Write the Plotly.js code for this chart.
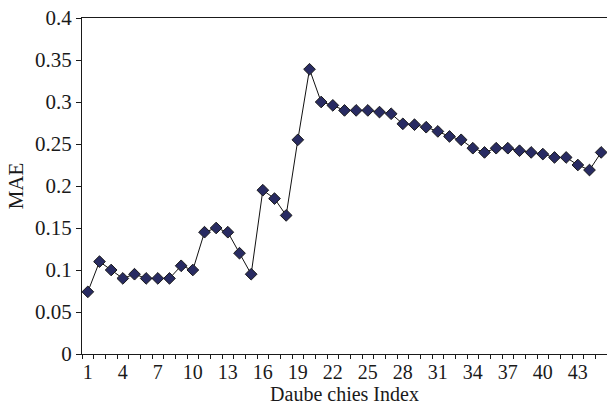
<!DOCTYPE html>
<html>
<head>
<meta charset="utf-8">
<script src="https://cdn.plot.ly/plotly-3.0.1.min.js"></script>
<style>html,body{margin:0;padding:0;background:#fff;}#chart{width:607px;height:412px;}</style>
</head>
<body>
<div id="chart"></div>
<script>
// Daubechies wavelet index (categories)
var daubIndex = [1,2,3,4,5,6,7,8,9,10,11,12,13,14,15,16,17,18,19,20,21,22,23,24,25,26,27,28,29,30,31,32,33,34,35,36,37,38,39,40,41,42,43,44,45];
// MAE values
var maeValues = [0.074,0.110,0.100,0.090,0.095,0.090,0.090,0.090,0.105,0.100,
                 0.145,0.150,0.145,0.120,0.095,0.195,0.185,0.165,0.255,0.339,
                 0.300,0.296,0.290,0.290,0.290,0.288,0.286,0.274,0.273,0.270,
                 0.265,0.259,0.255,0.245,0.240,0.245,0.245,0.242,0.240,0.238,
                 0.234,0.234,0.225,0.219,0.240];
// x tick labels (every third index)
var xTickVals = [1,4,7,10,13,16,19,22,25,28,31,34,37,40,43];
var xTickText = ["1","4","7","10","13","16","19","22","25","28","31","34","37","40","43"];

var serif = "Liberation Serif, Times New Roman, serif";
var ink = "#1a1a1a";

var trace = {
  x: daubIndex,
  y: maeValues,
  type: "scatter",
  mode: "lines+markers",
  line: {color: "#111111", width: 1},
  marker: {symbol: "diamond", size: 9, color: "#282b62", line: {color: "#1a1a1a", width: 1}},
  hoverinfo: "x+y"
};

var layout = {
  width: 607,
  height: 412,
  margin: {l: 82, r: 0, t: 18, b: 58, pad: 0},
  paper_bgcolor: "#ffffff",
  plot_bgcolor: "#ffffff",
  showlegend: false,
  font: {family: serif, size: 21, color: ink},
  xaxis: {
    range: [0.5, 45.5],
    tickmode: "array",
    tickvals: xTickVals,
    ticktext: xTickText,
    ticks: "",
    showgrid: false,
    zeroline: false,
    showline: true,
    linecolor: ink,
    linewidth: 1,
    mirror: true,
    minor: {tickmode: "linear", tick0: 0.5, dtick: 1, ticks: "outside", ticklen: 4, tickcolor: ink, tickwidth: 1, showgrid: false},
    tickfont: {family: serif, size: 20, color: ink},
    title: {text: "Daube chies Index", font: {family: serif, size: 20, color: ink}, standoff: 4}
  },
  yaxis: {
    range: [0, 0.4],
    tickmode: "linear",
    tick0: 0,
    dtick: 0.05,
    ticks: "outside",
    ticklen: 5,
    tickcolor: ink,
    showgrid: false,
    zeroline: false,
    showline: true,
    linecolor: ink,
    linewidth: 1,
    tickfont: {family: serif, size: 21, color: ink},
    title: {text: "MAE", font: {family: serif, size: 21, color: ink}, standoff: 5}
  }
};

Plotly.newPlot("chart", [trace], layout, {displayModeBar: false, staticPlot: true});
</script>
</body>
</html>
